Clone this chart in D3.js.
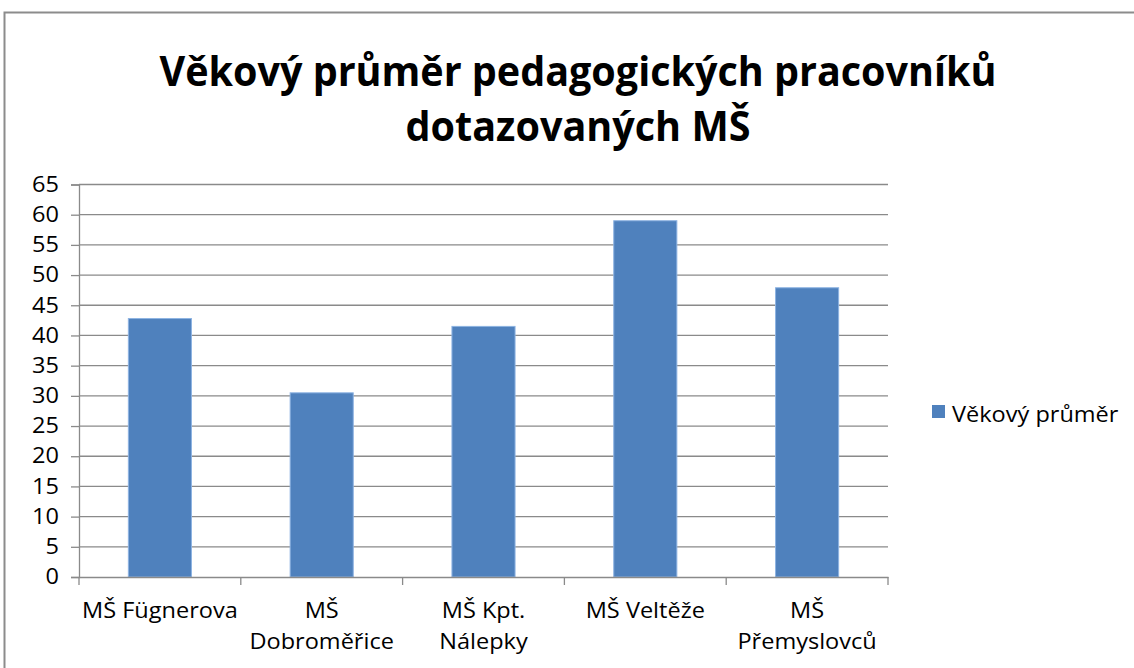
<!DOCTYPE html>
<html><head><meta charset="utf-8">
<script src="https://cdn.jsdelivr.net/npm/d3@7"></script>
<style>
body{margin:0;background:#fff;}
svg{display:block;font-family:"Open Sans","Noto Sans",sans-serif;}
</style></head>
<body>
<svg id="c" width="1134" height="668"></svg>
<script>
const titleLines = ["Věkový průměr pedagogických pracovníků", "dotazovaných MŠ"];
const categories = ["MŠ Fügnerova", "MŠ Dobroměřice", "MŠ Kpt. Nálepky", "MŠ Veltěže", "MŠ Přemyslovců"];
const categoryLines = [["MŠ Fügnerova"], ["MŠ", "Dobroměřice"], ["MŠ Kpt.", "Nálepky"], ["MŠ Veltěže"], ["MŠ", "Přemyslovců"]];
const seriesName = "Věkový průměr";
const values = [42.8, 30.5, 41.5, 59.0, 47.9];
const yTicks = [0, 5, 10, 15, 20, 25, 30, 35, 40, 45, 50, 55, 60, 65];

const svg = d3.select("#c");
const m = {left: 79, right: 888, top: 184.5, bottom: 577};
const blue = "#4F81BD", grid = "#8a8a8a";
const FS = 21, STRETCH = 1.12;

function stretch(sel) {
  sel.each(function() {
    const L = this.getComputedTextLength();
    d3.select(this).attr("textLength", L * STRETCH).attr("lengthAdjust", "spacingAndGlyphs");
  });
}

svg.append("rect").attr("x", 4.5).attr("y", 12.5).attr("width", 1200).attr("height", 700)
  .attr("fill", "#fff").attr("stroke", "#8c8c8c").attr("stroke-width", 2);

const title = svg.append("g");
titleLines.forEach((t, i) => {
  title.append("text").attr("x", 578).attr("y", 86 + i * 55)
    .attr("text-anchor", "middle").attr("font-size", 41).attr("font-weight", "bold")
    .attr("fill", "#000").attr("textLength", i === 0 ? 837 : 345)
    .attr("lengthAdjust", "spacingAndGlyphs").text(t);
});

const x = d3.scaleBand().domain(categories).range([m.left, m.right]).padding(0);
const y = d3.scaleLinear().domain([0, 65]).range([m.bottom, m.top]);

// gridlines
svg.append("g").selectAll("line").data(yTicks.filter(d => d > 0)).join("line")
  .attr("x1", m.left).attr("x2", m.right).attr("y1", d => y(d)).attr("y2", d => y(d))
  .attr("stroke", grid).attr("stroke-width", 1.3);

// y axis
const yAxis = svg.append("g").attr("transform", `translate(${m.left},0)`)
  .call(d3.axisLeft(y).tickValues(yTicks).tickSize(8).tickPadding(12));
yAxis.select(".domain").attr("stroke", grid).attr("stroke-width", 1.3);
yAxis.selectAll(".tick line").attr("stroke", grid).attr("stroke-width", 1.3);
yAxis.selectAll(".tick text").attr("font-size", FS).attr("fill", "#000")
  .attr("font-family", "'Open Sans','Noto Sans',sans-serif").call(stretch);

// bars
const bw = x.bandwidth() * 0.39;
svg.append("g").selectAll("rect").data(values).join("rect")
  .attr("x", (d, i) => x(categories[i]) + (x.bandwidth() - bw) / 2)
  .attr("width", bw)
  .attr("y", d => y(d)).attr("height", d => y(0) - y(d))
  .attr("fill", blue).attr("stroke", "#8db3e2").attr("stroke-width", 1);

// x axis
const xAxis = svg.append("g").attr("transform", `translate(0,${m.bottom})`)
  .call(d3.axisBottom(x).tickSize(0).tickFormat(""));
xAxis.select(".domain").attr("stroke", grid).attr("stroke-width", 1.3);
xAxis.selectAll(".tick").remove();
const bounds = categories.map(c => x(c)).concat([m.right]);
svg.append("g").selectAll("line").data(bounds).join("line")
  .attr("x1", d => d).attr("x2", d => d).attr("y1", m.bottom).attr("y2", m.bottom + 8)
  .attr("stroke", grid).attr("stroke-width", 1.3);

// category labels
const lab = svg.append("g");
categoryLines.forEach((lines, i) => {
  lines.forEach((t, j) => {
    lab.append("text").attr("x", x(categories[i]) + x.bandwidth() / 2)
      .attr("y", 618 + j * 31).attr("text-anchor", "middle")
      .attr("font-size", FS).attr("fill", "#000").text(t);
  });
});
lab.selectAll("text").call(stretch);

// legend
svg.append("rect").attr("x", 932).attr("y", 405).attr("width", 13).attr("height", 13).attr("fill", blue);
svg.append("text").attr("x", 952).attr("y", 422).attr("font-size", FS).attr("fill", "#000")
  .text(seriesName).call(stretch);
</script>
</body></html>
